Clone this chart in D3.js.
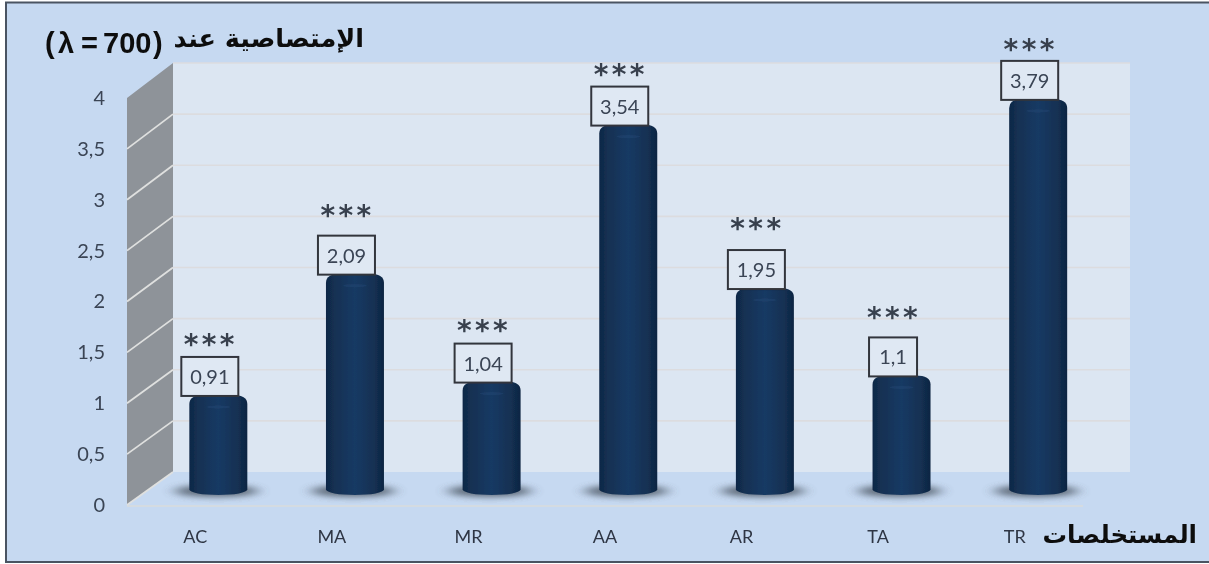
<!DOCTYPE html>
<html>
<head>
<meta charset="utf-8">
<script src="https://cdnjs.cloudflare.com/ajax/libs/d3/7.8.5/d3.min.js"></script>
<style>
    html, body { margin: 0; padding: 0; background: #fff; }
    svg { display: block; }
    text { font-family: Lato, "Open Sans", sans-serif; }
</style>
</head>
<body>
<div id="chart"></div>
<script>
// Data
var categories = ["AC", "MA", "MR", "AA", "AR", "TA", "TR"];
var values = [0.91, 2.09, 1.04, 3.54, 1.95, 1.1, 3.79];
var stars = ["***", "***", "***", "***", "***", "***", "***"];
var yTicks = [0, 0.5, 1, 1.5, 2, 2.5, 3, 3.5, 4];
var titleArabic = "الإمتصاصية عند";
var titleLatin = ["(", "λ", "=", "700", ")"];
var xTitle = "المستخلصات";

// gap between star row and label box differs per bar in the original
var starGap = [17, 25, 18, 17, 26, 24, 16];

var width = 1209, height = 564;

var svg = d3.select("#chart")
    .append("svg")
    .attr("width", width)
    .attr("height", height);

var defs = svg.append("defs");

// cylinder shading
var grad = defs.append("linearGradient").attr("id", "cyl");
grad.append("stop").attr("offset", "0%").attr("stop-color", "#0f2746");
grad.append("stop").attr("offset", "14%").attr("stop-color", "#133052");
grad.append("stop").attr("offset", "50%").attr("stop-color", "#193a64");
grad.append("stop").attr("offset", "84%").attr("stop-color", "#133052");
grad.append("stop").attr("offset", "100%").attr("stop-color", "#0e2542");

defs.append("filter").attr("id", "shadowBlur")
    .attr("x", "-50%").attr("width", "200%")
    .attr("y", "-150%").attr("height", "400%")
    .append("feGaussianBlur").attr("stdDeviation", "7 3");

defs.append("filter").attr("id", "soft")
    .attr("filterUnits", "userSpaceOnUse")
    .attr("x", 0).attr("y", 0)
    .attr("width", width).attr("height", height)
    .append("feGaussianBlur").attr("stdDeviation", 0.55);

// Frame, right side runs off the picture
svg.append("rect")
    .attr("x", 6).attr("y", 2.5)
    .attr("width", 1210).attr("height", 559.5)
    .attr("fill", "#c6d9f1")
    .attr("stroke", "#4a5462")
    .attr("stroke-width", 2);

// Scales: front plane, back wall and bar plane
var yFront = d3.scaleLinear().domain([0, 4]).range([505, 98]);
var yBack = d3.scaleLinear().domain([0, 4]).range([472, 63]);
var yBar = d3.scaleLinear().domain([0, 4]).range([488.5, 77.3]);
var xFront = d3.scaleBand().domain(categories).range([127, 1083]);
var xBar = d3.scaleBand().domain(categories).range([150, 1106.5]);

var plot = svg.append("g").attr("filter", "url(#soft)");

// Back wall
plot.append("rect")
    .attr("x", xFront.range()[0] + 46)
    .attr("y", yBack(4))
    .attr("width", xFront.range()[1] - xFront.range()[0] + 1)
    .attr("height", yBack(0) - yBack(4))
    .attr("fill", "#dce6f2");

// Side wall
var wallPts = [
    [127, yFront(0)], [127, yFront(4)],
    [173, yBack(4)], [173, yBack(0)]
];
plot.append("polygon")
    .attr("points", wallPts.join(" "))
    .attr("fill", "#8e9399");

// Floor front edge
plot.append("line")
    .attr("x1", 127).attr("x2", 1083)
    .attr("y1", yFront(0) + 1).attr("y2", yFront(0) + 1)
    .attr("stroke", "#d9dcdc").attr("stroke-width", 1.5);

// Gridlines on wall and side
yTicks.forEach(function (t) {
    if (t > 0) {
        plot.append("line")
            .attr("x1", 173).attr("x2", 1130)
            .attr("y1", yBack(t)).attr("y2", yBack(t))
            .attr("stroke", "#dcdcdf").attr("stroke-width", 1.6);
    }
    if (t < 4) {
        plot.append("line")
            .attr("x1", 127).attr("x2", 173)
            .attr("y1", yFront(t)).attr("y2", yBack(t))
            .attr("stroke", "#dfe0df").attr("stroke-width", 1.8);
    }
});

// Axes sit in a parent group, the blur region is in its user space
var axes = svg.append("g").attr("filter", "url(#soft)");

// Y axis
var yAxis = d3.axisLeft(yFront)
    .tickValues(yTicks)
    .tickSize(0)
    .tickPadding(0)
    .tickFormat(function (d) { return String(d).replace(".", ","); });

var yG = axes.append("g")
    .attr("transform", "translate(105,0)")
    .call(yAxis);
yG.select(".domain").remove();
yG.selectAll("text")
    .attr("font-size", 20)
    .attr("fill", "#3a4454")
    .style("font-family", "Lato");

// X axis
var xAxis = d3.axisBottom(xFront).tickSize(0).tickPadding(0);
var xG = axes.append("g")
    .attr("transform", "translate(0,530)")
    .call(xAxis);
xG.select(".domain").remove();
xG.selectAll("text")
    .attr("font-size", 18)
    .attr("fill", "#2e3644")
    .style("font-family", "Lato");

// Bars
var barW = 58, baseR = 5.5;
var bw = xBar.bandwidth();

function barCx(i) { return xBar(categories[i]) + bw / 2; }

function cylinder(d, i) {
    var cx = barCx(i);
    var l = cx - barW / 2, r = cx + barW / 2;
    var top = yBar(d), bot = yBar(0) + 1;
    return "M" + l + "," + bot
        + "L" + l + "," + (top + 9)
        + "Q" + l + "," + top + " " + (l + 15) + "," + top
        + "L" + (r - 15) + "," + top
        + "Q" + r + "," + top + " " + r + "," + (top + 9)
        + "L" + r + "," + bot
        + "A" + (barW / 2) + "," + baseR + " 0 0 1 " + l + "," + bot + "Z";
}

var bars = plot.append("g");

// floor shadows
bars.selectAll(".shadow")
    .data(values)
    .enter()
    .append("ellipse")
    .attr("class", "shadow")
    .attr("cx", function (d, i) { return barCx(i) - 2; })
    .attr("cy", yBar(0) + 2.5)
    .attr("rx", 42)
    .attr("ry", 6)
    .attr("fill", "#4c5664")
    .attr("opacity", 0.85)
    .attr("filter", "url(#shadowBlur)");

bars.selectAll(".bar")
    .data(values)
    .enter()
    .append("path")
    .attr("class", "bar")
    .attr("d", cylinder)
    .attr("fill", "url(#cyl)");

// small light smear under the cap
bars.selectAll(".cap")
    .data(values)
    .enter()
    .append("ellipse")
    .attr("class", "cap")
    .attr("cx", function (d, i) { return barCx(i); })
    .attr("cy", function (d) { return yBar(d) + 12; })
    .attr("rx", 12)
    .attr("ry", 1.5)
    .attr("fill", "#2a4e7c")
    .attr("opacity", 0.35);

// Value labels
var labels = svg.append("g").attr("filter", "url(#soft)");

function labelX(i) { return barCx(i) - 8.5; }

labels.selectAll("rect")
    .data(values)
    .enter()
    .append("rect")
    .attr("x", function (d, i) { return labelX(i) - (d === 1.1 ? 24 : 28.5); })
    .attr("y", function (d) { return yBar(d) - 38; })
    .attr("width", function (d) { return d === 1.1 ? 48 : 57; })
    .attr("height", 39)
    .attr("fill", "#dfe8f3")
    .attr("stroke", "#33363c")
    .attr("stroke-width", 2);

labels.selectAll(".val")
    .data(values)
    .enter()
    .append("text")
    .attr("class", "val")
    .attr("x", function (d, i) { return labelX(i); })
    .attr("y", function (d) { return yBar(d) - 11; })
    .attr("text-anchor", "middle")
    .attr("font-size", 20)
    .attr("fill", "#3a4454")
    .text(function (d) { return String(d).replace(".", ","); });

labels.selectAll(".star")
    .data(stars)
    .enter()
    .append("text")
    .attr("class", "star")
    .attr("x", function (d, i) { return labelX(i) + 1; })
    .attr("y", function (d, i) { return yBar(values[i]) - 38 - starGap[i] + 14; })
    .attr("text-anchor", "middle")
    .attr("font-size", 28)
    .attr("font-weight", "bold")
    .attr("letter-spacing", 3.4)
    .attr("fill", "#38414e")
    .style("font-family", "DejaVu Sans")
    .text(function (d) { return d; });

// Titles
var titleG = svg.append("g").attr("filter", "url(#soft)");

titleG.append("text")
    .attr("x", 364).attr("y", 47)
    .attr("text-anchor", "start")
    .attr("direction", "rtl")
    .attr("font-size", 25.5)
    .attr("font-weight", "bold")
    .attr("fill", "#111")
    .style("font-family", "DejaVu Sans")
    .text(titleArabic);

// latin part placed piece by piece so the spacing follows the original
var latinX = [45, 58, 81, 103, 153];
titleG.selectAll(".latin")
    .data(titleLatin)
    .enter()
    .append("text")
    .attr("class", "latin")
    .attr("x", function (d, i) { return latinX[i]; })
    .attr("y", 53)
    .attr("font-size", 29)
    .attr("font-weight", "bold")
    .attr("fill", "#111")
    .style("font-family", "Liberation Sans")
    .text(function (d) { return d; });

titleG.append("text")
    .attr("x", 1197).attr("y", 543)
    .attr("text-anchor", "start")
    .attr("direction", "rtl")
    .attr("font-size", 24.5)
    .attr("font-weight", "bold")
    .attr("fill", "#111")
    .style("font-family", "DejaVu Sans")
    .text(xTitle);
</script>
</body>
</html>
